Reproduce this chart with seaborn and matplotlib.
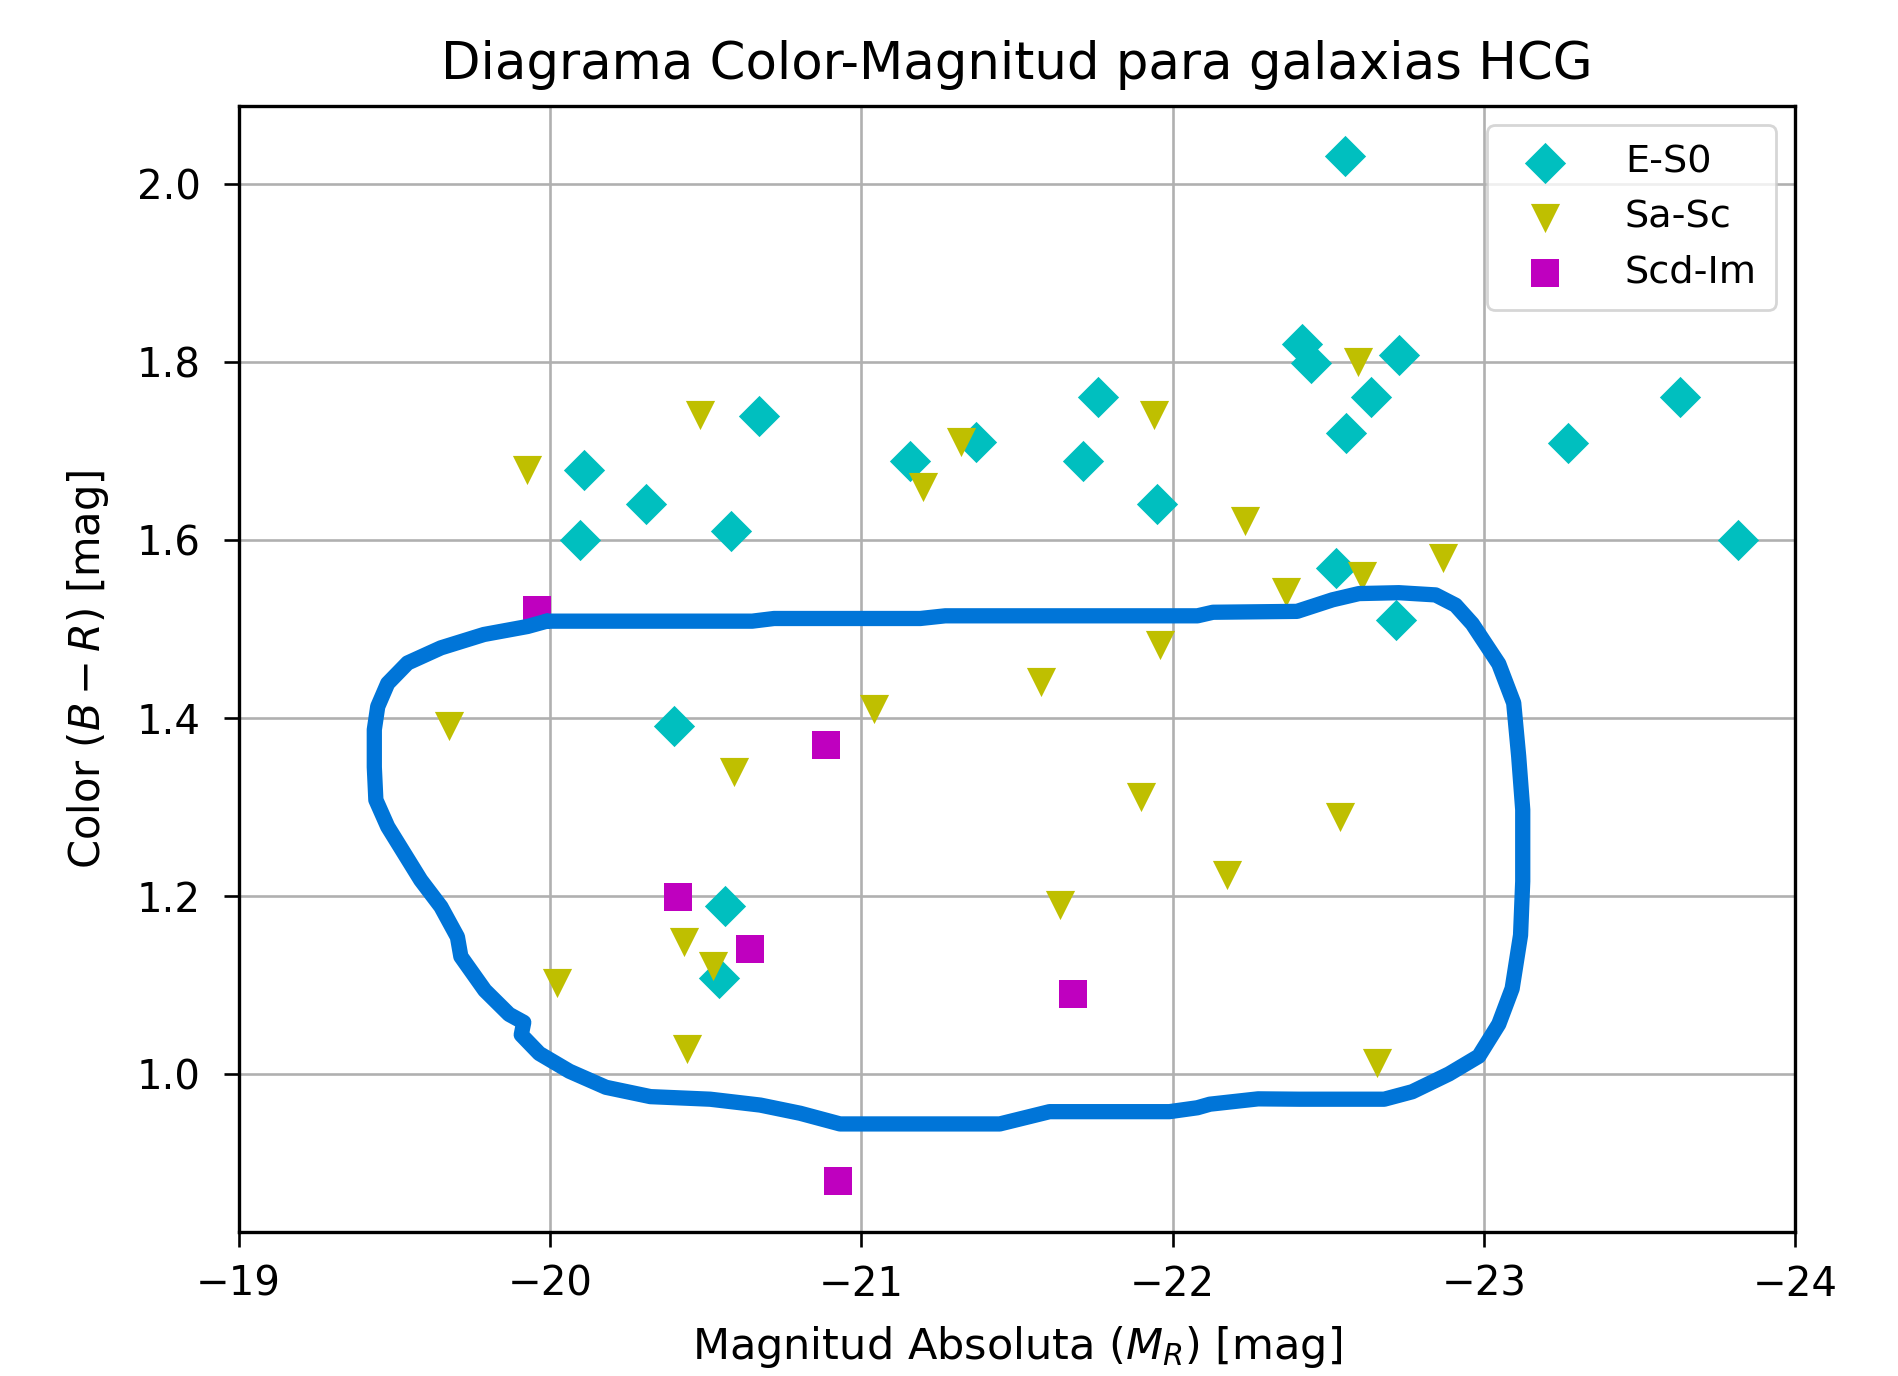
import matplotlib
matplotlib.use("Agg")
import matplotlib.pyplot as plt
import seaborn as sns
import pandas as pd

# ---------------- data ----------------
es0_mag = [-22.555, -22.416, -22.445, -22.727, -22.639, -22.557, -23.630, -23.269,
           -23.816, -22.526, -22.719, -21.760, -21.712, -21.951, -21.370, -21.156,
           -20.672, -20.583, -20.310, -20.109, -20.098, -20.400, -20.564, -20.542]
es0_col = [2.032, 1.821, 1.799, 1.808, 1.761, 1.720, 1.761, 1.709,
           1.600, 1.569, 1.510, 1.761, 1.689, 1.641, 1.710, 1.689,
           1.740, 1.610, 1.641, 1.679, 1.600, 1.391, 1.189, 1.108]

sasc_mag = [-19.928, -20.481, -21.319, -21.197, -21.942, -22.597, -22.232, -22.364,
            -22.610, -22.870, -21.961, -21.576, -21.041, -19.676, -20.593, -21.899,
            -22.539, -22.174, -21.640, -20.431, -20.523, -20.024, -20.441, -22.658]
sasc_col = [1.679, 1.741, 1.710, 1.660, 1.741, 1.800, 1.622, 1.5415,
            1.560, 1.580, 1.482, 1.441, 1.410, 1.391, 1.339, 1.311,
            1.289, 1.2235, 1.190, 1.148, 1.121, 1.102, 1.028, 1.012]

scdim_mag = [-19.960, -20.886, -20.412, -20.643, -21.681, -20.925]
scdim_col = [1.5216, 1.370, 1.199, 1.1405, 1.0896, 0.880]

# hand-drawn contour (data coordinates)
contour_mag = [-19.99, -20.00, -20.65, -20.72, -21.19, -21.27, -22.08, -22.13, -22.40,
               -22.514, -22.599, -22.727, -22.845, -22.909, -22.963, -23.048, -23.096,
               -23.112, -23.125, -23.125, -23.118, -23.091, -23.048, -22.984, -22.888,
               -22.770, -22.68, -22.407, -22.275, -22.12, -22.08, -21.99, -21.605,
               -21.445, -20.932, -20.804, -20.676, -20.515, -20.323, -20.18, -20.063,
               -19.966, -19.908, -19.916, -19.869, -19.791, -19.714, -19.703, -19.650,
               -19.585, -19.532, -19.479, -19.441, -19.436, -19.436, -19.447, -19.479,
               -19.543, -19.650, -19.788, -19.928, -19.99]
contour_col = [1.509, 1.509, 1.509, 1.512, 1.512, 1.515, 1.515, 1.519, 1.520,
               1.533, 1.540, 1.541, 1.5385, 1.527, 1.506, 1.461, 1.417,
               1.357, 1.297, 1.2165, 1.156, 1.096, 1.056, 1.020, 1.000,
               0.980, 0.9716, 0.9716, 0.972, 0.966, 0.962, 0.9576, 0.9576,
               0.9438, 0.9438, 0.9558, 0.965, 0.9716, 0.9745, 0.985, 1.003,
               1.023, 1.044, 1.058, 1.067, 1.094, 1.132, 1.154, 1.188,
               1.218, 1.248, 1.278, 1.308, 1.345, 1.387, 1.413, 1.439,
               1.462, 1.479, 1.494, 1.503, 1.509]

groups = ["E-S0", "Sa-Sc", "Scd-Im"]
x_ticks = [-19, -20, -21, -22, -23, -24]
y_ticks = [1.0, 1.2, 1.4, 1.6, 1.8, 2.0]

# ---------------- style ----------------
sns.set_style("white")
plt.rcParams["font.family"] = ["DejaVu Sans"]
plt.rcParams["mathtext.fontset"] = "dejavusans"
for k in ["text.color", "axes.labelcolor", "xtick.color", "ytick.color"]:
    plt.rcParams[k] = "black"

fig = plt.figure(figsize=(18.98, 13.76), dpi=100)
fig.patch.set_facecolor("white")
ax = fig.add_axes([0.1257, 0.1047, 0.8201, 0.8180])

df_es0 = pd.DataFrame({"mag": es0_mag, "col": es0_col})
df_sasc = pd.DataFrame({"mag": sasc_mag, "col": sasc_col})
df_scd = pd.DataFrame({"mag": scdim_mag, "col": scdim_col})
df_cont = pd.DataFrame({"mag": contour_mag, "col": contour_col})

msize = 21.0
sns.scatterplot(data=df_es0, x="mag", y="col", marker="D", color="#00bfbf",
                s=msize ** 2, linewidth=0, ax=ax, label=groups[0], legend=False, zorder=3)
sns.scatterplot(data=df_sasc, x="mag", y="col", marker="v", color="#bfbf00",
                s=msize ** 2, linewidth=0, ax=ax, label=groups[1], legend=False, zorder=3)
sns.scatterplot(data=df_scd, x="mag", y="col", marker="s", color="#bf00bf",
                s=(msize * 0.97) ** 2, linewidth=0, ax=ax, label=groups[2], legend=False, zorder=3)

sns.lineplot(data=df_cont, x="mag", y="col", sort=False, estimator=None,
             color="#0075d8", linewidth=11, ax=ax, zorder=4,
             solid_capstyle="round", solid_joinstyle="round")

ax.set_xlim(-19, -24)
ax.set_ylim(0.8224, 2.0877)
ax.set_xticks(x_ticks)
ax.set_yticks(y_ticks)
ax.grid(True, color="#b0b0b0", linewidth=1.9)
ax.set_axisbelow(True)
for sp in ax.spines.values():
    sp.set_color("black")
    sp.set_linewidth(2.4)
ax.tick_params(axis="both", which="major", direction="out", length=10.5, width=1.9,
               color="black", labelsize=29, bottom=True, left=True)
ax.tick_params(axis="x", pad=13)
ax.tick_params(axis="y", pad=17)

ax.set_title("Diagrama Color-Magnitud para galaxias HCG", fontsize=37, pad=20)
ax.set_xlabel(r"Magnitud Absoluta $(M_R)$ [mag]", fontsize=31, labelpad=14)
ax.set_ylabel(r"Color $(B-R)$ [mag]", fontsize=30, labelpad=18)

leg = ax.legend(loc="upper right", fontsize=27.5, frameon=True, fancybox=True,
                framealpha=0.8, edgecolor="#cccccc", borderpad=0.5,
                handletextpad=1.1, labelspacing=0.5)
leg.get_frame().set_linewidth(2.0)

fig.savefig("out.png", dpi=100, facecolor="white")
